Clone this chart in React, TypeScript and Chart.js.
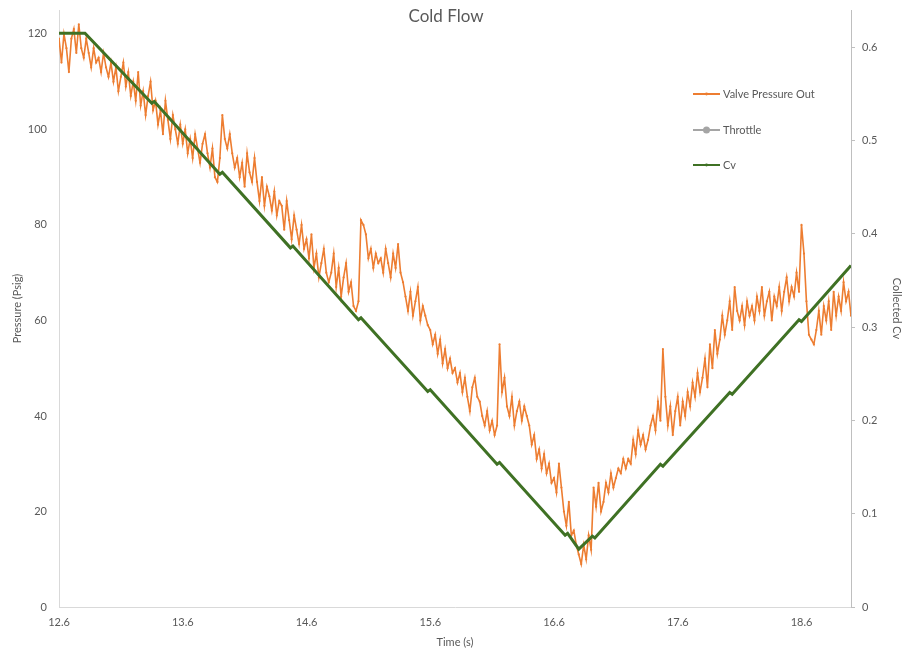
import React, { useEffect, useRef } from "react";
import { Chart, registerables } from "chart.js";

Chart.register(...registerables);

const TITLE = "Cold Flow";
const X_TITLE = "Time (s)";
const LEFT_TITLE = "Pressure (Psig)";
const RIGHT_TITLE = "Collected Cv";

const SERIES_NAMES = ["Valve Pressure Out", "Throttle", "Cv"];

const X_TICKS = [12.6, 13.6, 14.6, 15.6, 16.6, 17.6, 18.6];
const PRESSURE_TICKS = [0, 20, 40, 60, 80, 100, 120];
const CV_TICKS = [0, 0.1, 0.2, 0.3, 0.4, 0.5, 0.6];

// Valve outlet pressure, logged every 20 ms starting at 12.6 s
const PRESSURE_START = 12.6;
const PRESSURE_STEP = 0.02;
const PRESSURE_VALUES = [
  119, 114, 120, 117, 112, 119, 121, 116, 122, 117,
  115, 119, 116, 113, 117, 114, 115, 112, 116, 113,
  111, 114, 110, 113, 108, 111, 114, 109, 112, 107,
  110, 106, 112, 105, 108, 103, 107, 110, 104, 106,
  101, 104, 99, 106, 102, 98, 103, 100, 97, 101,
  97, 100, 95, 98, 94, 99, 96, 93, 97, 99,
  95, 92, 96, 90, 89, 94, 103, 98, 96, 99,
  95, 92, 94, 90, 93, 88, 95, 91, 89, 94,
  89, 85, 90, 84, 88, 86, 83, 87, 82, 85,
  84, 79, 85, 81, 77, 82, 79, 76, 80, 75,
  77, 73, 78, 71, 74, 69, 72, 75, 70, 68,
  70, 74, 67, 71, 65, 69, 72, 66, 68, 63,
  62, 64, 81, 80, 78, 73, 75, 71, 74, 72,
  73, 70, 75, 72, 69, 74, 71, 76, 70, 68,
  65, 62, 66, 61, 64, 67, 60, 63, 61, 59,
  58, 55, 57, 53, 56, 51, 54, 50, 52, 49,
  50, 47, 49, 45, 48, 44, 41, 46, 48, 44,
  43, 40, 38, 41, 37, 39, 36, 38, 55, 45,
  48, 42, 40, 44, 38, 41, 43, 39, 42, 40,
  38, 34, 36, 31, 33, 29, 32, 28, 30, 26,
  27, 24, 30, 25, 20, 17, 22, 15, 16, 13,
  11, 9, 13, 10, 15, 12, 25, 21, 26, 20,
  22, 26, 24, 28, 25, 27, 29, 28, 31, 29,
  31, 30, 35, 32, 37, 34, 36, 33, 35, 38,
  40, 37, 43, 39, 54, 44, 38, 42, 36, 41,
  44, 38, 43, 40, 45, 42, 47, 44, 49, 45,
  48, 52, 46, 55, 50, 58, 53, 56, 61, 57,
  60, 64, 58, 67, 62, 60, 63, 59, 64, 61,
  63, 60, 65, 62, 67, 61, 64, 66, 60, 65,
  63, 67, 62, 66, 69, 64, 67, 65, 70, 66,
  80, 74, 64, 57, 56, 55, 58, 62, 57, 63,
  60, 64, 58, 66, 61, 65, 62, 68, 64, 66,
  61,
];

// Collected Cv break points (time, Cv)
const CV_TIME = [
  12.6, 12.81, 13.35, 13.37, 13.9, 13.92, 14.47, 14.49, 15.02, 15.04,
  15.58, 15.6, 16.14, 16.16, 16.69, 16.71, 16.8, 16.91, 16.93, 17.46,
  17.48, 18.02, 18.04, 18.58, 18.6, 19.0,
];
const CV_VALUES = [
  0.615, 0.615, 0.54, 0.542, 0.464, 0.466, 0.385, 0.387, 0.308, 0.31,
  0.231, 0.233, 0.153, 0.155, 0.077, 0.079, 0.062, 0.076, 0.074, 0.153,
  0.151, 0.23, 0.228, 0.308, 0.306, 0.366,
];

const THROTTLE_TIME: number[] = [];
const THROTTLE_VALUES: number[] = [];

const ORANGE = "#ED7D31";
const GRAY = "#A5A5A5";
const GREEN = "#3F7124";
const TEXT = "#595959";
const FONT = "Lato, 'Open Sans', sans-serif";

const overlay = {
  id: "overlay",
  afterDraw(chart: any) {
    const ctx = chart.ctx as CanvasRenderingContext2D;
    ctx.save();
    ctx.fillStyle = TEXT;
    ctx.font = `17px ${FONT}`;
    ctx.textAlign = "center";
    ctx.textBaseline = "middle";
    ctx.fillText(TITLE, 446, 17);

    // legend
    const rows = [94, 130, 165];
    chart.data.datasets.forEach((ds: any, i: number) => {
      const y = rows[i];
      ctx.strokeStyle = ds.borderColor;
      ctx.lineWidth = 2;
      ctx.beginPath();
      ctx.moveTo(693, y);
      ctx.lineTo(720, y);
      ctx.stroke();
      ctx.fillStyle = ds.borderColor;
      ctx.beginPath();
      ctx.arc(706.5, y, ds.legendMarker, 0, Math.PI * 2);
      ctx.fill();
      ctx.fillStyle = TEXT;
      ctx.font = `11px ${FONT}`;
      ctx.textAlign = "left";
      ctx.fillText(ds.label, 723, y);
    });
    ctx.restore();
  },
};

const fixVertical = (width: number) => (s: any) => {
  s.width = width;
  s.paddingTop = 0;
  s.paddingBottom = 0;
};

export default function App() {
  const ref = useRef<HTMLCanvasElement | null>(null);

  useEffect(() => {
    if (!ref.current) return;
    const pressure = PRESSURE_VALUES.map((v, i) => ({
      x: PRESSURE_START + i * PRESSURE_STEP,
      y: v,
    }));
    const cv = CV_TIME.map((t, i) => ({ x: t, y: CV_VALUES[i] }));
    const throttle = THROTTLE_TIME.map((t, i) => ({ x: t, y: THROTTLE_VALUES[i] }));

    const tickFont = { family: FONT, size: 11 };
    const titleFont = { family: FONT, size: 11 };

    const chart = new Chart(ref.current, {
      type: "line",
      data: {
        datasets: [
          {
            label: SERIES_NAMES[0],
            data: pressure,
            borderColor: ORANGE,
            backgroundColor: ORANGE,
            borderWidth: 1.6,
            pointRadius: 1.1,
            pointBorderWidth: 0,
            tension: 0,
            yAxisID: "y",
            order: 2,
            legendMarker: 1.4,
          } as any,
          {
            label: SERIES_NAMES[1],
            data: throttle,
            borderColor: GRAY,
            backgroundColor: GRAY,
            borderWidth: 2,
            pointRadius: 3,
            yAxisID: "y",
            order: 1,
            legendMarker: 3.5,
          } as any,
          {
            label: SERIES_NAMES[2],
            data: cv,
            borderColor: GREEN,
            backgroundColor: GREEN,
            borderWidth: 3,
            pointRadius: 0,
            tension: 0,
            yAxisID: "y1",
            order: 0,
            legendMarker: 1.4,
          } as any,
        ],
      },
      options: {
        responsive: false,
        animation: false,
        layout: { padding: { top: 10, left: 0, right: 0, bottom: 0 } },
        plugins: {
          legend: { display: false },
          title: { display: false },
          tooltip: { enabled: false },
        },
        scales: {
          x: {
            type: "linear",
            min: 12.6,
            max: 19.0,
            afterBuildTicks: (s: any) => {
              s.ticks = X_TICKS.map((value) => ({ value }));
            },
            afterFit: (s: any) => {
              s.height = 45;
              s.paddingLeft = 0;
              s.paddingRight = 0;
            },
            ticks: {
              autoSkip: false,
              maxRotation: 0,
              padding: 9,
              color: TEXT,
              font: tickFont,
              callback: (v: any) => Number(v).toFixed(1),
            },
            grid: { display: false, drawTicks: false },
            border: { display: true, color: "#D9D9D9", width: 1 },
            title: {
              display: true,
              text: X_TITLE,
              color: TEXT,
              font: titleFont,
              padding: { top: 0, bottom: 3 },
            },
          },
          y: {
            type: "linear",
            position: "left",
            min: 0,
            max: 125,
            afterBuildTicks: (s: any) => {
              s.ticks = PRESSURE_TICKS.map((value) => ({ value }));
            },
            afterFit: fixVertical(59),
            ticks: {
              autoSkip: false,
              padding: 12,
              color: TEXT,
              font: tickFont,
              callback: (v: any) => String(v),
            },
            grid: { display: false, drawTicks: false },
            border: { display: true, color: "#D9D9D9", width: 1 },
            title: {
              display: true,
              text: LEFT_TITLE,
              color: TEXT,
              font: titleFont,
              padding: { top: 11, bottom: 0 },
            },
          },
          y1: {
            type: "linear",
            position: "right",
            min: 0,
            max: 0.64,
            afterBuildTicks: (s: any) => {
              s.ticks = CV_TICKS.map((value) => ({ value }));
            },
            afterFit: fixVertical(52),
            ticks: {
              autoSkip: false,
              padding: 7,
              color: TEXT,
              font: tickFont,
              callback: (v: any) => String(Math.round(Number(v) * 10) / 10),
            },
            grid: {
              display: true,
              drawOnChartArea: false,
              drawTicks: true,
              tickLength: 4,
              color: "#BFBFBF",
            },
            border: { display: true, color: "#BFBFBF", width: 1 },
            title: {
              display: true,
              text: RIGHT_TITLE,
              color: TEXT,
              font: titleFont,
              padding: { top: 0, bottom: 0 },
            },
          },
        },
      },
      plugins: [overlay],
    });
    return () => chart.destroy();
  }, []);

  return (
    <div style={{ position: "fixed", left: 0, top: 0, width: 903, height: 652, background: "#fff" }}>
      <canvas ref={ref} width={903} height={652} style={{ display: "block" }} />
    </div>
  );
}
